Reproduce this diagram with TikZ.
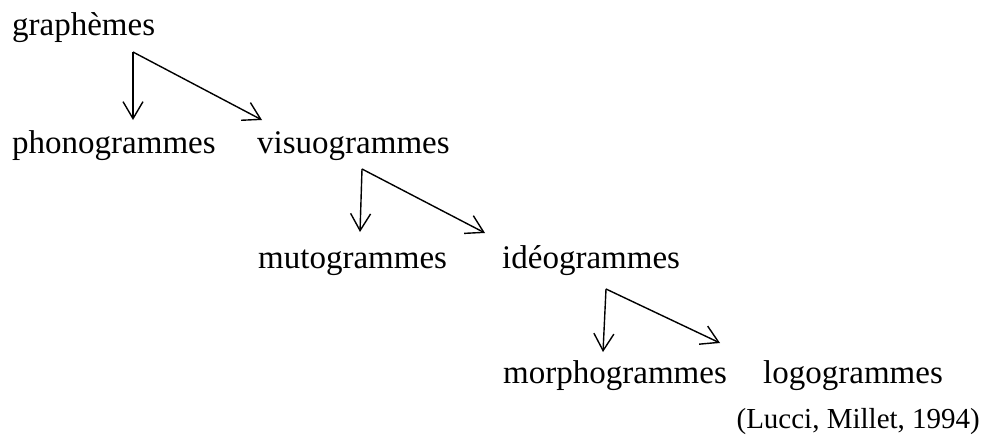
\documentclass[tikz,border=0pt]{standalone}
\usepackage{fontspec}
\setmainfont{Liberation Serif}
\usetikzlibrary{arrows.meta}

\begin{document}
\begin{tikzpicture}[x=1pt,y=-1pt,
    mot/.style={anchor=base west,inner sep=0pt,font=\fontsize{33}{40}\selectfont},
    fleche/.style={-{Straight Barb[length=17pt,width=20pt]},line width=1.4pt}]
              \useasboundingbox (0,0) rectangle (981,441);

              \node[mot](graph) at (12,36) {graphèmes};
              \node[mot](phono) at (12,153) {phonogrammes};
              \node[mot](visuo) at (257,153) {visuogrammes};
              \node[mot](muto) at (258,268) {mutogrammes};
              \node[mot](ideo) at (502,268) {idéogrammes};
              \node[mot](morpho) at (503,383) {morphogrammes};
              \node[mot](logo) at (763,383) {logogrammes};
              \node[anchor=base east,inner sep=0pt,font=\fontsize{29}{35}\selectfont](source) at (980,428) {(Lucci, Millet, 1994)};

              % fourches
              \coordinate (f1) at (133,52);
              \coordinate (f1a) at (133,120);
              \coordinate (f1b) at (262,120);
              \coordinate (f2) at (362,169);
              \coordinate (f2a) at (360,232);
              \coordinate (f2b) at (485,233);
              \coordinate (f3) at (606,289);
              \coordinate (f3a) at (603,352);
              \coordinate (f3b) at (720,343);

              \draw[fleche] (f1) -- (f1a);
              \draw[fleche] (f1) -- (f1b);
              \draw[fleche] (f2) -- (f2a);
              \draw[fleche] (f2) -- (f2b);
              \draw[fleche] (f3) -- (f3a);
              \draw[fleche] (f3) -- (f3b);
             \end{tikzpicture}
\end{document}
